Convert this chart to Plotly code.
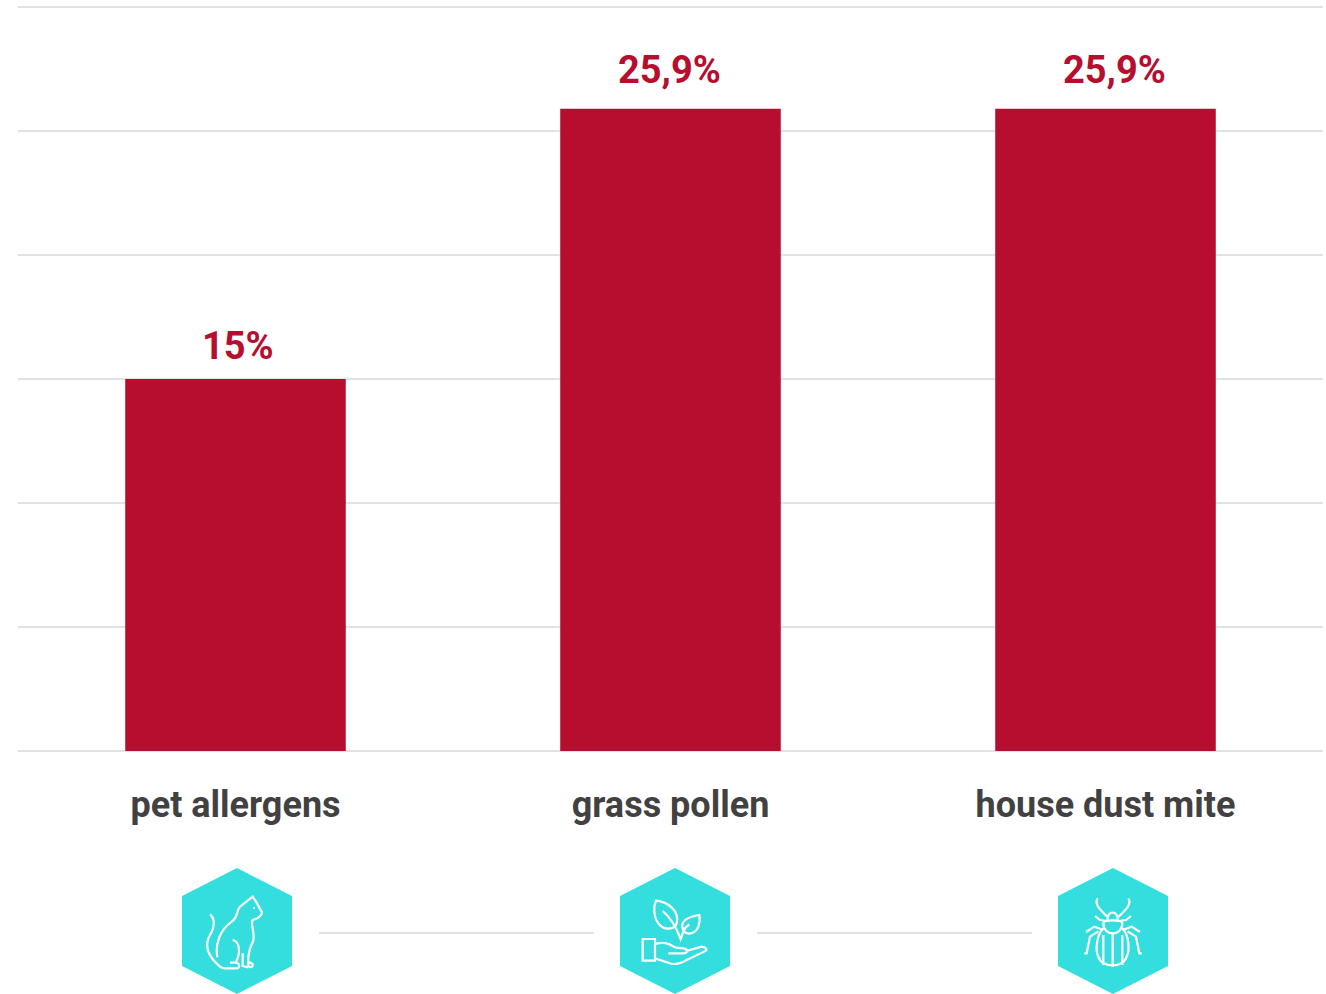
import re
import plotly.graph_objects as go

categories = ["pet allergens", "grass pollen", "house dust mite"]
values = [15, 25.9, 25.9]
value_labels = ["15%", "25,9%", "25,9%"]
label_xshifts = [2, -1, 9]
label_yshifts = [9, 15, 15]
axis_top = 30

RED = "#B70D2E"
TEAL = "#34DEDE"
GRID = "#E2E2E2"
TEXT = "#414141"
FONT = "Roboto"
W, H = 1326, 994
L, R, T, B = 18, 1323, 7, 751


def px(x, y):
    return (x - L) / (R - L), (B - y) / (B - T)


def icon_path(d, ox, oy):
    """Icon outlines were traced on a 3x crop starting at (ox, oy)."""
    toks = re.findall(r"[MLCZ]|-?\d+\.?\d*", d)
    out, i = [], 0
    while i < len(toks):
        if toks[i] in "MLCZ":
            out.append(toks[i])
            i += 1
        else:
            x, y = px(ox + float(toks[i]) / 3, oy + float(toks[i + 1]) / 3)
            out.append(f"{x:.5f},{y:.5f}")
            i += 2
    return " ".join(out)


cat = [
    "M150,163 C165,175 165,200 150,225 C135,250 140,275 160,300 C175,315 180,325 195,325 L232,325 C240,322 240,310 228,308 L210,308",
    "M172,292 C165,250 180,210 215,185 C235,170 228,155 240,140 L278,110 L288,125 L305,155 C308,165 295,175 278,180 C270,190 285,215 280,240 C278,255 262,265 265,312 C265,325 280,325 278,312 L265,305",
    "M248,280 L248,318 L265,322",
    "M218,240 C240,245 242,280 228,305",
    "M280,143 L284,145",
]
plant = [
    "M128,237 L165,237 L165,302 L128,302 Z",
    "M165,252 C190,245 205,248 225,262 L255,266 C265,270 262,280 250,280 L205,280",
    "M262,272 L305,260 C318,262 322,268 318,272 L260,300 C235,315 220,315 205,308 L165,295",
    "M168,122 C200,125 240,150 230,190 C225,210 190,212 175,190 C160,170 160,140 168,122 Z",
    "M188,153 C215,175 230,205 242,237 L250,215 C252,205 260,200 268,193",
    "M298,165 C270,170 240,180 248,205 C255,228 285,225 295,200 C300,185 300,175 298,165 Z",
]
bug = [
    "M205,205 C185,225 180,270 190,290 C200,325 265,325 275,290 C285,270 282,225 262,205",
    "M205,190 C205,230 262,230 262,190 C262,178 205,178 205,190 Z",
    "M218,180 C215,150 250,150 248,180",
    "M188,115 C178,130 190,145 217,170",
    "M280,115 C290,130 278,145 251,170",
    "M180,168 L195,180 L215,183",
    "M288,168 L273,180 L253,183",
    "M153,216 L178,200 L205,210",
    "M315,216 L290,200 L263,210",
    "M148,280 L155,280 L165,230 L190,214",
    "M320,280 L313,280 L303,230 L278,214",
    "M205,225 L205,315",
    "M233,222 L233,320",
    "M262,225 L262,315",
]
icons = [(cat, 160, 860, 237), (plant, 600, 860, 675), (bug, 1035, 860, 1113)]

fig = go.Figure(go.Bar(x=categories, y=values, marker=dict(color=RED, line=dict(width=0)),
                       width=0.507, hoverinfo="skip"))

shapes = [dict(type="line", xref="paper", yref="paper", x0=0, x1=1, y0=1, y1=1,
               line=dict(color=GRID, width=2), layer="below")]
for paths, ox, oy, cx in icons:
    pts = [(cx, 868), (cx + 55, 896), (cx + 55, 966), (cx, 994), (cx - 55, 966), (cx - 55, 896)]
    hexa = "M" + " L".join("{:.5f},{:.5f}".format(*px(*p)) for p in pts) + " Z"
    shapes.append(dict(type="path", xref="paper", yref="paper", path=hexa,
                       fillcolor=TEAL, line=dict(width=0), layer="above"))
    for d in paths:
        shapes.append(dict(type="path", xref="paper", yref="paper", path=icon_path(d, ox, oy),
                           line=dict(color="white", width=2.2), layer="above"))
for a, b in [(319, 594), (757, 1032)]:
    x0, y0 = px(a, 933)
    x1, _ = px(b, 933)
    shapes.append(dict(type="line", xref="paper", yref="paper", x0=x0, x1=x1, y0=y0, y1=y0,
                       line=dict(color=GRID, width=2)))

annotations = [
    dict(x=c, y=v, text=t, showarrow=False, xshift=sx, yshift=sy, yanchor="bottom",
         font=dict(family=FONT, size=38, color=RED, weight="bold"))
    for c, v, t, sx, sy in zip(categories, values, value_labels, label_xshifts, label_yshifts)
]

fig.update_layout(
    width=W, height=H, autosize=False,
    margin=dict(l=L, r=W - R, t=T, b=H - B, pad=0),
    paper_bgcolor="white", plot_bgcolor="white", showlegend=False,
    xaxis=dict(type="category", showgrid=False, showline=False, zeroline=False,
               ticks="outside", ticklen=22, tickcolor="rgba(0,0,0,0)", tickwidth=1,
               tickfont=dict(family=FONT, size=36, color=TEXT, weight="bold")),
    yaxis=dict(range=[0, axis_top], dtick=5, showticklabels=False, showgrid=True, gridcolor=GRID, gridwidth=2,
               zeroline=True, zerolinecolor=GRID, zerolinewidth=2, showline=False, ticks=""),
    shapes=shapes, annotations=annotations,
)
fig.write_html("out.html", config={"displayModeBar": False},
               post_script="document.body.style.margin='0';")
